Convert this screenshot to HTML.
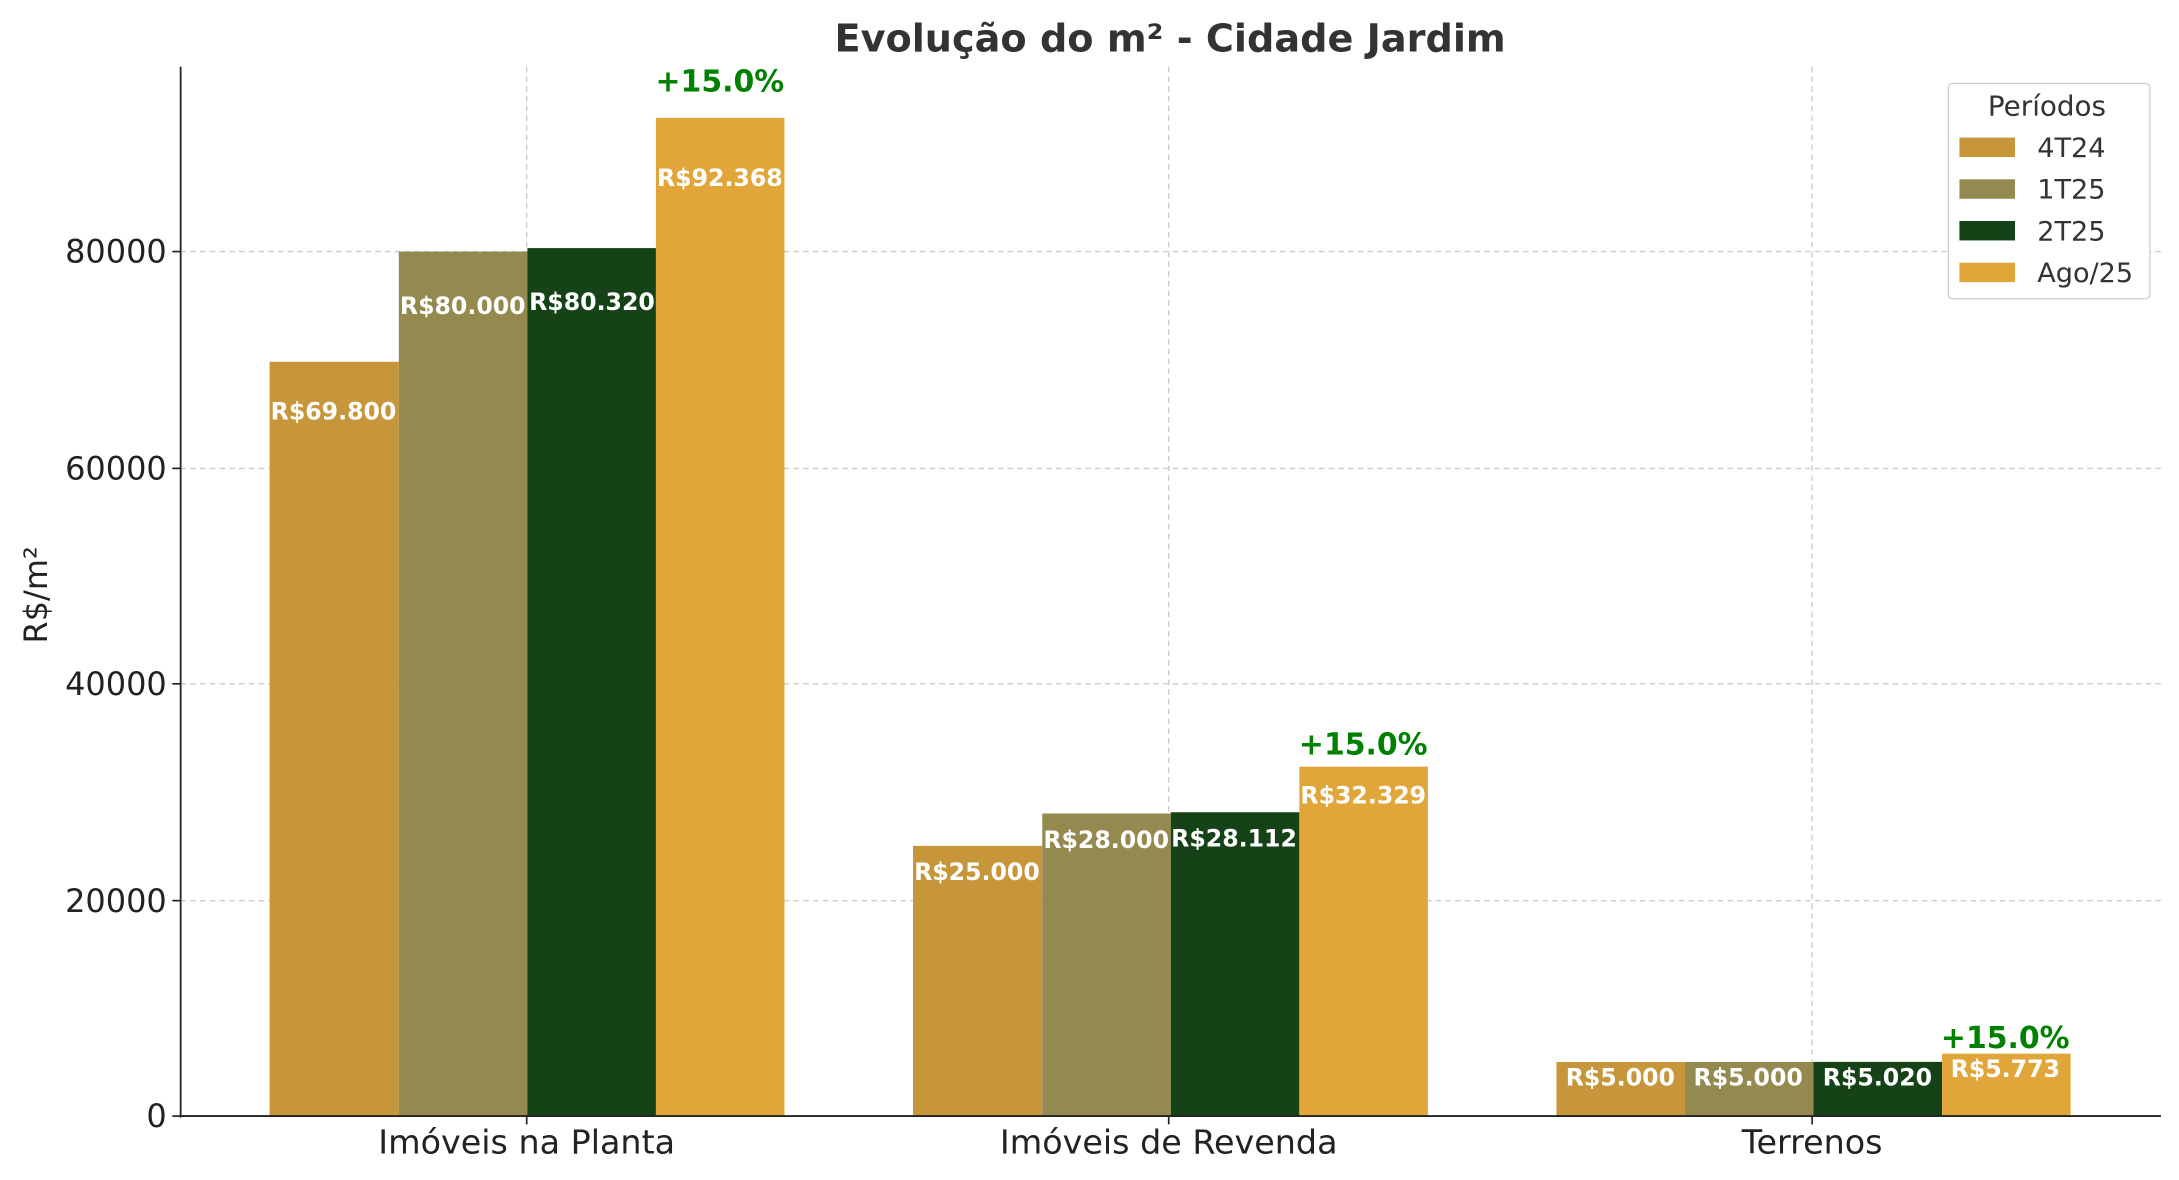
<!DOCTYPE html>
<html><head><meta charset="utf-8"><style>
html,body{margin:0;padding:0;background:#fff;}
svg{display:block;}
text{font-family:"DejaVu Sans","Liberation Sans",sans-serif;}
</style></head><body>
<svg width="2179" height="1180" viewBox="0 0 1568 849" preserveAspectRatio="none" xmlns="http://www.w3.org/2000/svg">
<rect width="1568" height="849" fill="#fff"/>
<g stroke="#cccccc" stroke-width="1" stroke-dasharray="4,3">
<line x1="130" x2="1555" y1="648" y2="648"/>
<line x1="130" x2="1555" y1="492" y2="492"/>
<line x1="130" x2="1555" y1="337" y2="337"/>
<line x1="130" x2="1555" y1="181" y2="181"/>
<line x1="379" x2="379" y1="48" y2="803"/>
<line x1="841" x2="841" y1="48" y2="803"/>
<line x1="1304" x2="1304" y1="48" y2="803"/>
</g>
<rect x="194" y="260.3" width="93" height="542.7" fill="#C8963A"/>
<rect x="287" y="181" width="92.5" height="622" fill="#94894F"/>
<rect x="379.5" y="178.5" width="92.5" height="624.5" fill="#154317"/>
<rect x="472" y="84.8" width="92.5" height="718.2" fill="#E1A63A"/>
<rect x="657" y="608.6" width="93" height="194.4" fill="#C8963A"/>
<rect x="750" y="585.3" width="92.5" height="217.7" fill="#94894F"/>
<rect x="842.5" y="584.4" width="92.5" height="218.6" fill="#154317"/>
<rect x="935" y="551.6" width="92.5" height="251.4" fill="#E1A63A"/>
<rect x="1120" y="764.1" width="92.5" height="38.9" fill="#C8963A"/>
<rect x="1212.5" y="764.1" width="92.5" height="38.9" fill="#94894F"/>
<rect x="1305" y="764" width="92.5" height="39" fill="#154317"/>
<rect x="1397.5" y="758.1" width="92.5" height="44.9" fill="#E1A63A"/>
<g fill="#fff" font-size="17" font-weight="bold" text-anchor="middle">
<text x="240" y="302">R$69.800</text>
<text x="333" y="226">R$80.000</text>
<text x="426" y="223">R$80.320</text>
<text x="518" y="134">R$92.368</text>
<text x="703" y="633">R$25.000</text>
<text x="796" y="610">R$28.000</text>
<text x="888" y="609">R$28.112</text>
<text x="981" y="578">R$32.329</text>
<text x="1166" y="781">R$5.000</text>
<text x="1258" y="781">R$5.000</text>
<text x="1351" y="781">R$5.020</text>
<text x="1443" y="775">R$5.773</text>
</g>
<g fill="#008000" font-size="21.5" font-weight="bold" text-anchor="middle">
<text x="518" y="66">+15.0%</text>
<text x="981" y="543">+15.0%</text>
<text x="1443" y="754">+15.0%</text>
</g>
<line x1="130" x2="130" y1="48" y2="804" stroke="#222" stroke-width="1.3"/>
<line x1="129" x2="1555" y1="803" y2="803" stroke="#222" stroke-width="1.3"/>
<g stroke="#222" stroke-width="1.2">
<line x1="124" x2="130" y1="803" y2="803"/><line x1="124" x2="130" y1="648" y2="648"/>
<line x1="124" x2="130" y1="492" y2="492"/><line x1="124" x2="130" y1="337" y2="337"/>
<line x1="124" x2="130" y1="181" y2="181"/>
<line x1="379" x2="379" y1="803" y2="809"/><line x1="841" x2="841" y1="803" y2="809"/><line x1="1304" x2="1304" y1="803" y2="809"/>
</g>
<g fill="#222" font-size="23" text-anchor="end">
<text x="120" y="811">0</text>
<text x="120" y="656">20000</text>
<text x="120" y="500">40000</text>
<text x="120" y="345">60000</text>
<text x="120" y="189">80000</text>
</g>
<g fill="#222" font-size="24" text-anchor="middle">
<text x="379" y="830">Imóveis na Planta</text>
<text x="841" y="830">Imóveis de Revenda</text>
<text x="1304" y="830">Terrenos</text>
</g>
<text transform="translate(34,428) rotate(-90)" fill="#222" font-size="23" text-anchor="middle">R$/m²</text>
<text x="842" y="37" fill="#333" font-size="27.5" font-weight="bold" text-anchor="middle">Evolução do m² - Cidade Jardim</text>
<rect x="1402" y="60" width="145" height="155" rx="3" fill="#fff" stroke="#d0d0d0"/>
<text x="1473" y="83" fill="#333" font-size="20" text-anchor="middle">Períodos</text>
<rect x="1410" y="99" width="40" height="14" fill="#C8963A"/>
<rect x="1410" y="129" width="40" height="14" fill="#94894F"/>
<rect x="1410" y="159" width="40" height="14" fill="#154317"/>
<rect x="1410" y="189" width="40" height="14" fill="#E1A63A"/>
<g fill="#333" font-size="19.5">
<text x="1466" y="113">4T24</text>
<text x="1466" y="143">1T25</text>
<text x="1466" y="173">2T25</text>
<text x="1466" y="203">Ago/25</text>
</g>
</svg>
</body></html>
